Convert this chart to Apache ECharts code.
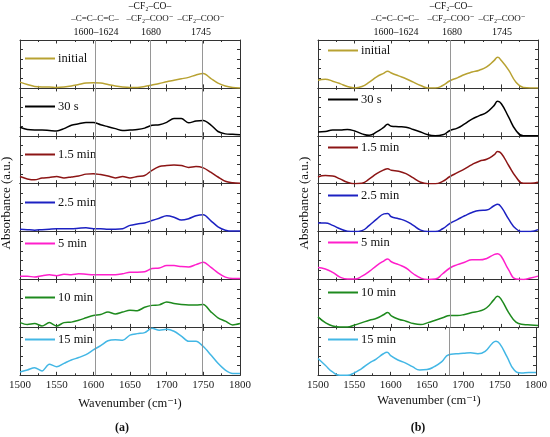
<!DOCTYPE html>
<html>
<head>
<meta charset="utf-8">
<script src="https://cdn.jsdelivr.net/npm/echarts@6/dist/echarts.min.js"></script>
<style>
html,body{margin:0;padding:0;background:#fff;}
#chart{width:550px;height:437px;}
</style>
</head>
<body>
<div id="chart"></div>
<script>
// wavenumbers (cm-1)
var wnA = [1500,1510,1520,1530,1540,1550,1560,1570,1580,1590,1600,1610,1620,1630,1640,1650,
           1660,1670,1680,1690,1700,1710,1720,1730,1740,1750,1760,1770,1780,1790,1800];
var wnB = [1500,1510,1520,1530,1540,1550,1560,1570,1580,1590,1595,1600,1610,1620,1630,1640,1650,
           1660,1670,1680,1690,1700,1710,1720,1730,1740,1745,1750,1760,1770,1780,1790,1800];

var labels = ['initial','30 s','1.5 min','2.5 min','5 min','10 min','15 min'];
var colors = ['#B8A232','#000000','#8C1515','#1C21C2','#FF1FCB','#1E8A1E','#43B7E5'];

// panel (a), absorbance normalised to each sub-panel
var initialA = [0.12,0.07,0.03,0.02,0.02,0.01,0.02,0.04,0.07,0.10,0.11,0.10,0.07,0.04,0.02,0.01,
                0.01,0.03,0.06,0.09,0.13,0.16,0.19,0.22,0.27,0.30,0.20,0.10,0.04,0.01,0.00];
var s30A     = [0.18,0.13,0.12,0.12,0.11,0.10,0.15,0.22,0.25,0.28,0.28,0.23,0.19,0.15,0.11,0.12,
                0.13,0.16,0.22,0.23,0.28,0.36,0.36,0.27,0.31,0.32,0.23,0.09,0.04,0.03,0.02];
var m1_5A    = [0.15,0.10,0.08,0.12,0.13,0.15,0.12,0.14,0.16,0.20,0.21,0.19,0.16,0.12,0.15,0.12,
                0.15,0.17,0.28,0.36,0.38,0.39,0.38,0.34,0.36,0.33,0.24,0.14,0.05,0.02,0.01];
var m2_5A    = [0.05,0.04,0.03,0.04,0.05,0.06,0.06,0.06,0.07,0.08,0.06,0.06,0.05,0.05,0.06,0.13,
                0.16,0.18,0.23,0.28,0.33,0.30,0.24,0.27,0.33,0.35,0.23,0.10,0.03,0.01,0.01];
var m5A      = [0.07,0.07,0.05,0.08,0.10,0.08,0.11,0.10,0.12,0.11,0.10,0.10,0.10,0.10,0.12,0.15,
                0.15,0.16,0.23,0.24,0.29,0.29,0.27,0.26,0.31,0.36,0.26,0.14,0.05,0.02,0.02];
var m10A     = [0.10,0.06,0.08,0.03,0.10,0.03,0.10,0.11,0.15,0.20,0.25,0.27,0.32,0.28,0.32,0.36,
                0.35,0.42,0.46,0.47,0.53,0.50,0.48,0.47,0.47,0.48,0.33,0.20,0.13,0.05,0.08];
var m15A     = [0.07,0.11,0.16,0.09,0.23,0.18,0.25,0.32,0.37,0.43,0.53,0.62,0.72,0.74,0.73,0.84,
                0.87,0.89,0.98,0.94,0.96,0.92,0.82,0.71,0.71,0.60,0.43,0.25,0.11,0.04,0.04];

// panel (b)
var initialB = [0.16,0.18,0.14,0.09,0.03,0.00,0.03,0.12,0.23,0.31,0.35,0.31,0.25,0.19,0.12,0.05,0.00,
                0.00,0.05,0.15,0.21,0.28,0.33,0.37,0.44,0.57,0.64,0.57,0.37,0.12,0.01,0.00,0.00];
var s30B     = [0.08,0.09,0.12,0.12,0.13,0.10,0.04,0.01,0.08,0.18,0.24,0.20,0.19,0.18,0.13,0.08,0.02,
                0.00,0.02,0.11,0.16,0.25,0.35,0.42,0.49,0.63,0.72,0.67,0.39,0.11,0.00,0.00,0.00];
var m1_5B    = [0.14,0.17,0.16,0.10,0.03,0.00,0.01,0.10,0.21,0.29,0.31,0.28,0.26,0.21,0.12,0.03,0.00,
                0.00,0.05,0.15,0.23,0.31,0.40,0.47,0.51,0.60,0.67,0.63,0.38,0.14,0.01,0.01,0.03];
var m2_5B    = [0.18,0.18,0.13,0.06,0.01,0.00,0.02,0.13,0.26,0.37,0.38,0.31,0.27,0.22,0.13,0.03,0.00,
                0.00,0.06,0.17,0.25,0.33,0.40,0.44,0.45,0.54,0.57,0.51,0.26,0.06,0.00,0.00,0.04];
var m5B      = [0.25,0.22,0.15,0.05,0.01,0.01,0.07,0.17,0.29,0.39,0.43,0.37,0.31,0.24,0.12,0.03,0.00,
                0.01,0.12,0.24,0.31,0.36,0.41,0.41,0.44,0.52,0.54,0.48,0.20,0.01,0.00,0.03,0.07];
var m10B     = [0.22,0.10,0.03,0.01,0.01,0.05,0.10,0.15,0.19,0.27,0.31,0.24,0.17,0.13,0.08,0.06,0.10,
                0.15,0.20,0.25,0.25,0.27,0.31,0.34,0.41,0.58,0.65,0.58,0.31,0.11,0.06,0.05,0.04];
var m15B     = [0.35,0.21,0.07,0.00,0.00,0.05,0.14,0.25,0.34,0.45,0.48,0.41,0.32,0.26,0.18,0.11,0.12,
                0.18,0.28,0.43,0.45,0.46,0.47,0.45,0.50,0.67,0.71,0.66,0.39,0.11,0.05,0.06,0.06];

// reference band positions
var bandsA = [1602,1678,1748];
var bandsB = [1680];

var FONT = '"Liberation Serif","DejaVu Serif",serif';
var AX = '#333';

var chart = echarts.init(document.getElementById('chart'));
var grids=[], xAxes=[], yAxes=[], series=[], legends=[];

function addPanel(left, wn, curves, bands, legX, legY, smooth){
    curves.forEach(function(vals, i){
        var g = grids.length;
        var last = (i === curves.length-1);
        grids.push({left:left, top:40 + i*47.9, width:220, height:47.9});
        ['bottom','top'].forEach(function(pos){
            xAxes.push({
                gridIndex:g, type:'value', min:1500, max:1800, interval:50, position:pos,
                axisLine:{show:true, onZero:false, lineStyle:{color:AX, width:1}},
                axisTick:{show:true, inside:true, length:3.5, lineStyle:{color:AX}},
                minorTick:{show:true, splitNumber:2, length:2, lineStyle:{color:AX}},
                splitLine:{show:false},
                axisLabel:{show:last && pos==='bottom', fontFamily:FONT, fontSize:11, color:'#222', margin:4,
                           formatter:function(v){ return String(v); }}
            });
        });
        ['left','right'].forEach(function(pos){
            yAxes.push({
                gridIndex:g, type:'value', min:0, max:1, interval:0.2, position:pos,
                axisLine:{show:true, onZero:false, lineStyle:{color:AX, width:1}},
                axisTick:{show:true, inside:true, length:3, lineStyle:{color:AX}},
                axisLabel:{show:false}, splitLine:{show:false}
            });
        });
        series.push({
            type:'line', name:labels[i], xAxisIndex:2*g, yAxisIndex:2*g,
            data: wn.map(function(w, k){ return [w, vals[k]]; }),
            symbol:'none', smooth:smooth,
            lineStyle:{color:colors[i], width:1.5},
            itemStyle:{color:colors[i]},
            markLine:{
                silent:true, symbol:'none', label:{show:false},
                lineStyle:{color:'#8a8a8a', width:0.9, type:'solid'},
                data: bands.map(function(b){ return {xAxis:b}; })
            }
        });
        legends.push({
            left:legX, top:legY[i]-7, padding:0, itemGap:0,
            icon:'rect', itemWidth:30, itemHeight:2,
            data:[labels[i]],
            textStyle:{fontFamily:FONT, fontSize:12.5, color:'#111', padding:[0,0,0,-2]},
            selectedMode:false
        });
    });
}

addPanel(20,  wnA, [initialA,s30A,m1_5A,m2_5A,m5A,m10A,m15A], bandsA, 25,  [59,107,155,203,244,298,340], 0.3);
addPanel(318, wnB, [initialB,s30B,m1_5B,m2_5B,m5B,m10B,m15B], bandsB, 328, [51,100,148,196,243,293,340], 0.5);

function txt(t, x, y, size, rot){
    return {type:'text', x:x, y:y, rotation:rot||0, silent:true,
        style:{text:t, fontFamily:FONT, fontSize:size, fill:'#111',
               textAlign:'center', textVerticalAlign:'middle'}};
}

var graphics = [
    // panel (a) band labels
    txt('–CF₂–CO–', 150, 6, 9.5),
    txt('–C=C–C=C–', 95, 19, 9),
    txt('–CF₂–COO⁻', 150, 19, 9),
    txt('–CF₂–COO⁻', 201, 19, 9),
    txt('1600–1624', 96, 32, 10),
    txt('1680', 151, 32, 10),
    txt('1745', 201, 32, 10),
    // panel (b) band labels
    txt('–CF₂–CO–', 451, 6, 9.5),
    txt('–C=C–C=C–', 395, 19, 9),
    txt('–CF₂–COO⁻', 451, 19, 9),
    txt('–CF₂–COO⁻', 502, 19, 9),
    txt('1600–1624', 396, 32, 10),
    txt('1680', 452, 32, 10),
    txt('1745', 502, 32, 10),
    // axis titles
    txt('Absorbance (a.u.)', 7, 203, 13, Math.PI/2),
    txt('Absorbance (a.u.)', 305, 203, 13, Math.PI/2),
    txt('Wavenumber (cm⁻¹)', 130, 404, 12.5),
    txt('Wavenumber (cm⁻¹)', 429, 401, 12.5),
    // panel letters
    {type:'text', x:122, y:428, silent:true, style:{text:'(a)', fontFamily:FONT, fontSize:12, fontWeight:'bold', fill:'#111', textAlign:'center', textVerticalAlign:'middle'}},
    {type:'text', x:418, y:428, silent:true, style:{text:'(b)', fontFamily:FONT, fontSize:12, fontWeight:'bold', fill:'#111', textAlign:'center', textVerticalAlign:'middle'}}
];

chart.setOption({
    animation:false,
    backgroundColor:'#fff',
    grid:grids, xAxis:xAxes, yAxis:yAxes,
    legend:legends,
    series:series,
    graphic:graphics
});
</script>
</body>
</html>
